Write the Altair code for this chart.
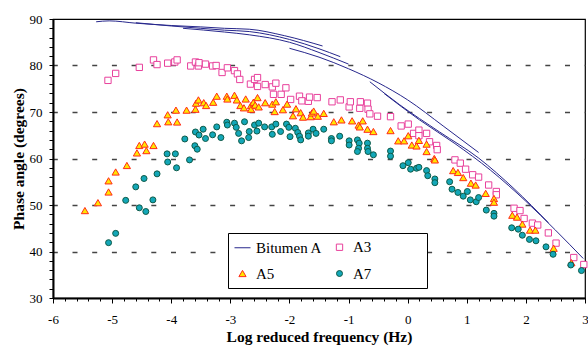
import altair as alt
import pandas as pd

# Bitumen A master curve, drawn as overlapping isotherm segments
bit_seg1_x = [-5.27, -5.05, -4.6, -4.0, -3.5, -3.1, -2.68, -2.08, -1.44]
bit_seg1_y = [89.4, 89.6, 89.1, 88.6, 88.3, 88.0, 87.8, 86.4, 84.2]
bit_seg2_x = [-4.6, -4.0, -3.5, -3.1, -2.68, -2.0, -1.5, -1.14]
bit_seg2_y = [89.2, 88.5, 88.0, 87.6, 87.3, 85.6, 83.6, 81.9]
bit_seg3_x = [-3.8, -3.1, -2.68, -2.0, -1.5, -1.0]
bit_seg3_y = [88.0, 87.2, 86.6, 85.0, 82.8, 80.3]
bit_seg4_x = [-2.0, -1.5, -1.0, -0.5, 0.0, 0.6, 1.2]
bit_seg4_y = [83.7, 81.8, 79.3, 76.3, 72.6, 67.0, 61.3]
bit_seg5_x = [-0.64, -0.14, 0.54, 1.2, 1.8, 2.38]
bit_seg5_y = [76.5, 71.6, 65.7, 60.1, 53.5, 46.2]
bit_seg6_x = [-0.4, 0.2, 0.8, 1.4, 2.0, 2.5, 2.97]
bit_seg6_y = [74.0, 68.3, 63.2, 57.5, 50.8, 44.6, 38.5]

# A3 (open squares)
a3_x = [-5.07, -4.94, -4.54, -4.30, -4.24, -4.06, -3.94, -3.90, -3.67, -3.59,
        -3.54, -3.53, -3.42, -3.30, -3.24, -3.14, -3.05, -2.93, -2.88, -2.84,
        -2.66, -2.59, -2.54, -2.54, -2.41, -2.29, -2.23, -2.27, -2.14, -2.06,
        -1.98, -1.83, -1.79, -1.68, -1.66, -1.53, -1.28, -1.14, -0.99, -0.97,
        -0.81, -0.80, -0.68, -0.67, -0.64, -0.51, -0.29, -0.11, 0.01, 0.10,
        0.19, 0.19, 0.32, 0.37, 0.49, 0.50, 0.80, 0.89, 0.98, 1.10,
        1.20, 1.37, 1.50, 1.50, 1.80, 1.90, 1.97, 2.11, 2.20, 2.38,
        2.51, 2.81, 2.98]
a3_y = [76.8, 78.3, 79.6, 81.2, 80.2, 80.5, 80.75, 81.2, 79.9, 80.75,
        79.9, 80.6, 80.3, 79.9, 80.0, 78.5, 79.5, 78.9, 78.2, 77.0,
        76.0, 77.0, 77.4, 75.5, 75.9, 75.4, 76.2, 73.8, 73.8, 75.2,
        72.7, 73.4, 72.4, 72.3, 73.2, 73.1, 72.2, 72.6, 71.1, 72.2,
        70.8, 72.2, 71.9, 70.6, 69.6, 69.1, 69.0, 67.0, 67.4, 65.4,
        66.1, 64.9, 65.4, 63.6, 62.8, 61.9, 59.7, 59.0, 57.7, 56.5,
        56.0, 54.3, 52.9, 52.2, 49.3, 48.8, 47.1, 46.1, 45.7, 44.0,
        41.8, 38.7, 37.2]

# A5 (triangles)
a5_x = [-5.46, -5.24, -5.06, -5.06, -4.94, -4.75, -4.58, -4.54, -4.45, -4.42,
        -4.30, -4.24, -4.06, -4.05, -3.92, -3.90, -3.74, -3.59, -3.58, -3.54,
        -3.45, -3.41, -3.29, -3.23, -3.06, -3.05, -2.93, -2.89, -2.83, -2.77,
        -2.74, -2.65, -2.65, -2.61, -2.58, -2.54, -2.52, -2.41, -2.29, -2.23,
        -2.25, -2.11, -2.04, -1.94, -1.89, -1.81, -1.77, -1.64, -1.62, -1.59,
        -1.52, -1.42, -1.25, -1.12, -0.94, -0.83, -0.81, -0.76, -0.68, -0.58,
        -0.29, -0.16, -0.06, 0.01, 0.07, 0.15, 0.19, 0.32, 0.32, 0.45,
        0.46, 0.77, 0.85, 0.94, 1.07, 1.15, 1.32, 1.46, 1.46, 1.77,
        1.85, 1.94, 2.07, 2.16, 2.47, 2.77]
a5_y = [48.8, 50.5, 52.8, 55.2, 57.1, 58.5, 61.2, 62.8, 63.1, 61.7,
        62.8, 67.5, 69.4, 67.9, 70.4, 67.85, 70.4, 70.6, 71.9, 72.6,
        72.0, 71.4, 72.1, 73.4, 73.4, 72.8, 73.6, 72.6, 71.4, 70.9,
        72.8, 71.4, 70.6, 72.1, 71.5, 73.1, 71.1, 72.0, 71.7, 72.2,
        70.1, 70.5, 71.7, 69.2, 70.7, 69.85, 68.9, 69.0, 69.8, 70.2,
        69.1, 69.7, 67.9, 68.3, 68.1, 67.2, 66.8, 68.1, 66.3, 65.8,
        66.0, 63.8, 63.8, 64.9, 62.9, 62.7, 63.9, 61.5, 63.1, 60.0,
        59.7, 57.4, 57.0, 55.9, 54.7, 54.3, 52.5, 51.4, 50.6, 47.8,
        47.4, 45.9, 44.6, 44.6, 40.7, 37.6]

# A7 (circles)
a7_x = [-5.06, -4.94, -4.77, -4.54, -4.43, -4.31, -4.60, -4.46, -4.24, -4.06,
        -3.91, -4.07, -3.93, -3.69, -3.77, -3.60, -3.56, -3.59, -3.53, -3.46,
        -3.42, -3.30, -3.23, -3.16, -3.06, -3.05, -2.93, -2.90, -2.86, -2.81,
        -2.76, -2.69, -2.68, -2.59, -2.55, -2.52, -2.42, -2.30, -2.29, -2.23,
        -2.15, -2.05, -2.01, -1.99, -1.90, -1.86, -1.83, -1.81, -1.68, -1.68,
        -1.60, -1.55, -1.42, -1.29, -1.29, -1.15, -0.99, -0.99, -0.85, -0.82,
        -0.83, -0.85, -0.68, -0.68, -0.67, -0.58, -0.29, -0.29, -0.08, 0.01,
        0.05, 0.15, 0.19, 0.32, 0.34, 0.46, 0.46, 0.71, 0.75, 0.85,
        0.94, 1.01, 1.06, 1.16, 1.20, 1.33, 1.46, 1.46, 1.76, 1.87,
        1.94, 2.06, 2.17, 2.34, 2.46, 2.76, 2.94]
a7_y = [41.9, 43.9, 51.0, 49.4, 48.6, 51.1, 53.9, 55.7, 56.7, 59.25,
        58.0, 61.0, 61.0, 59.7, 64.2, 62.75, 62.0, 65.7, 65.05, 66.3,
        64.3, 65.1, 66.8, 64.5, 67.8, 67.2, 67.6, 66.7, 65.4, 63.8,
        67.9, 64.5, 65.8, 67.2, 65.9, 67.6, 66.8, 66.8, 65.2, 67.4,
        65.8, 67.4, 66.7, 64.7, 66.5, 65.6, 64.8, 64.0, 65.5, 64.8,
        66.3, 65.4, 66.3, 64.3, 63.8, 64.8, 63.8, 62.9, 64.0, 63.3,
        62.2, 61.5, 63.3, 62.2, 61.5, 60.8, 61.6, 60.5, 58.45, 59.1,
        57.7, 57.9, 58.1, 57.4, 56.3, 55.6, 54.8, 55.0, 53.4, 52.7,
        51.9, 52.9, 51.1, 50.7, 51.6, 48.9, 48.2, 47.6, 45.1, 44.8,
        43.5, 42.6, 42.3, 41.0, 39.4, 37.1, 35.9]

series_order = ["Bitumen A", "A3", "A5", "A7"]
stroke_colors = ["#27278c", "#e8409c", "#ff2a1a", "#0e5a48"]
fill_colors = ["transparent", "#ffffff", "#ffe600", "#13a7b8"]
shapes = ["stroke", "square", "triangle-up", "circle"]
sizes = [256, 40, 52, 36]

# long-form tables
line_rows = []
for k, (xs, ys) in enumerate([(bit_seg1_x, bit_seg1_y), (bit_seg2_x, bit_seg2_y),
                              (bit_seg3_x, bit_seg3_y), (bit_seg4_x, bit_seg4_y),
                              (bit_seg5_x, bit_seg5_y), (bit_seg6_x, bit_seg6_y)]):
    for xv, yv in zip(xs, ys):
        line_rows.append({"x": xv, "y": yv, "seg": k, "series": "Bitumen A"})
line_df = pd.DataFrame(line_rows)

pt_rows = []
for name, xs, ys in [("A3", a3_x, a3_y), ("A5", a5_x, a5_y), ("A7", a7_x, a7_y)]:
    for xv, yv in zip(xs, ys):
        pt_rows.append({"x": xv, "y": yv, "series": name})
pt_df = pd.DataFrame(pt_rows)

serif = "Liberation Serif"
x_ticks = [round(-6 + 0.2 * i, 1) for i in range(46)]
y_ticks = list(range(30, 91, 2))

x_scale = alt.Scale(domain=[-6, 3], nice=False, zero=False)
y_scale = alt.Scale(domain=[30, 90], nice=False, zero=False)

x_axis = alt.Axis(
    title="Log reduced frequency (Hz)", values=x_ticks,
    labelExpr="abs(datum.value - round(datum.value)) < 0.001 ? '' + round(datum.value) : ''",
    tickSize={"condition": {"test": "abs(datum.value - round(datum.value)) < 0.001", "value": 5}, "value": 3},
    tickColor="black", tickWidth=1, domainColor="black", domainWidth=2,
    grid=False, labelFont=serif, labelFontSize=13, labelColor="black",
    labelPadding=10, labelFlush=False,
    titleFont=serif, titleFontSize=15.5, titleFontWeight="bold", titleColor="black",
    titlePadding=3,
)
y_axis = alt.Axis(
    title="Phase angle (degrees)", values=y_ticks,
    labelExpr="datum.value % 10 == 0 ? '' + datum.value : ''",
    tickSize=4, tickColor="black", tickWidth=1, domainColor="black", domainWidth=2,
    grid=True, gridColor="#444444", gridWidth=1.3, gridDash=[5, 14.7], gridDashOffset=0.7,
    gridOpacity={"condition": {"test": "datum.value % 10 == 0 && datum.value > 30 && datum.value < 90",
                               "value": 1}, "value": 0},
    labelFont=serif, labelFontSize=13, labelColor="black", labelPadding=7, labelFlush=False,
    titleFont=serif, titleFontSize=15.5, titleFontWeight="bold", titleColor="black",
    titlePadding=3,
)

# right-hand legend column is widened with no-break spaces (a zero-width
# space at the end keeps them from being trimmed)
col_pad = "\u00a0" * 13 + "\u200b"
legend = alt.Legend(
    title=None, orient="none", legendX=175, legendY=214, columns=2, direction="horizontal",
    strokeColor="black", fillColor="white", padding=6,
    labelFont=serif, labelFontSize=15, labelColor="black", labelOffset=5,
    labelExpr="datum.label == 'A3' || datum.label == 'A7' ? datum.label + '" + col_pad + "' : datum.label",
    symbolStrokeWidth=1, rowPadding=10, columnPadding=8,
)

color_scale = alt.Scale(domain=series_order, range=stroke_colors)
fill_scale = alt.Scale(domain=series_order, range=fill_colors)
shape_scale = alt.Scale(domain=series_order, range=shapes)
size_scale = alt.Scale(type="ordinal", domain=series_order, range=sizes)

lines = alt.Chart(line_df).mark_line(strokeWidth=1, interpolate="monotone").encode(
    x=alt.X("x:Q", scale=x_scale, axis=x_axis),
    y=alt.Y("y:Q", scale=y_scale, axis=y_axis),
    color=alt.Color("series:N", scale=color_scale, legend=legend),
    detail="seg:N",
)

points = alt.Chart(pt_df).mark_point(filled=False, strokeWidth=1, opacity=1).encode(
    x=alt.X("x:Q", scale=x_scale, axis=x_axis),
    y=alt.Y("y:Q", scale=y_scale, axis=y_axis),
    color=alt.Color("series:N", scale=color_scale, legend=legend),
    fill=alt.Fill("series:N", scale=fill_scale, legend=legend),
    shape=alt.Shape("series:N", scale=shape_scale, legend=legend),
    size=alt.Size("series:N", scale=size_scale, legend=legend),
)

chart = alt.layer(lines, points).properties(
    width=532, height=279,
    padding={"left": 53, "top": 19, "right": 3, "bottom": 49},
    autosize=alt.AutoSizeParams(type="none"),
    background="white",
).configure_view(stroke="black", strokeWidth=1.2)

chart.save("out.html", embed_options={"renderer": "svg", "actions": False})
